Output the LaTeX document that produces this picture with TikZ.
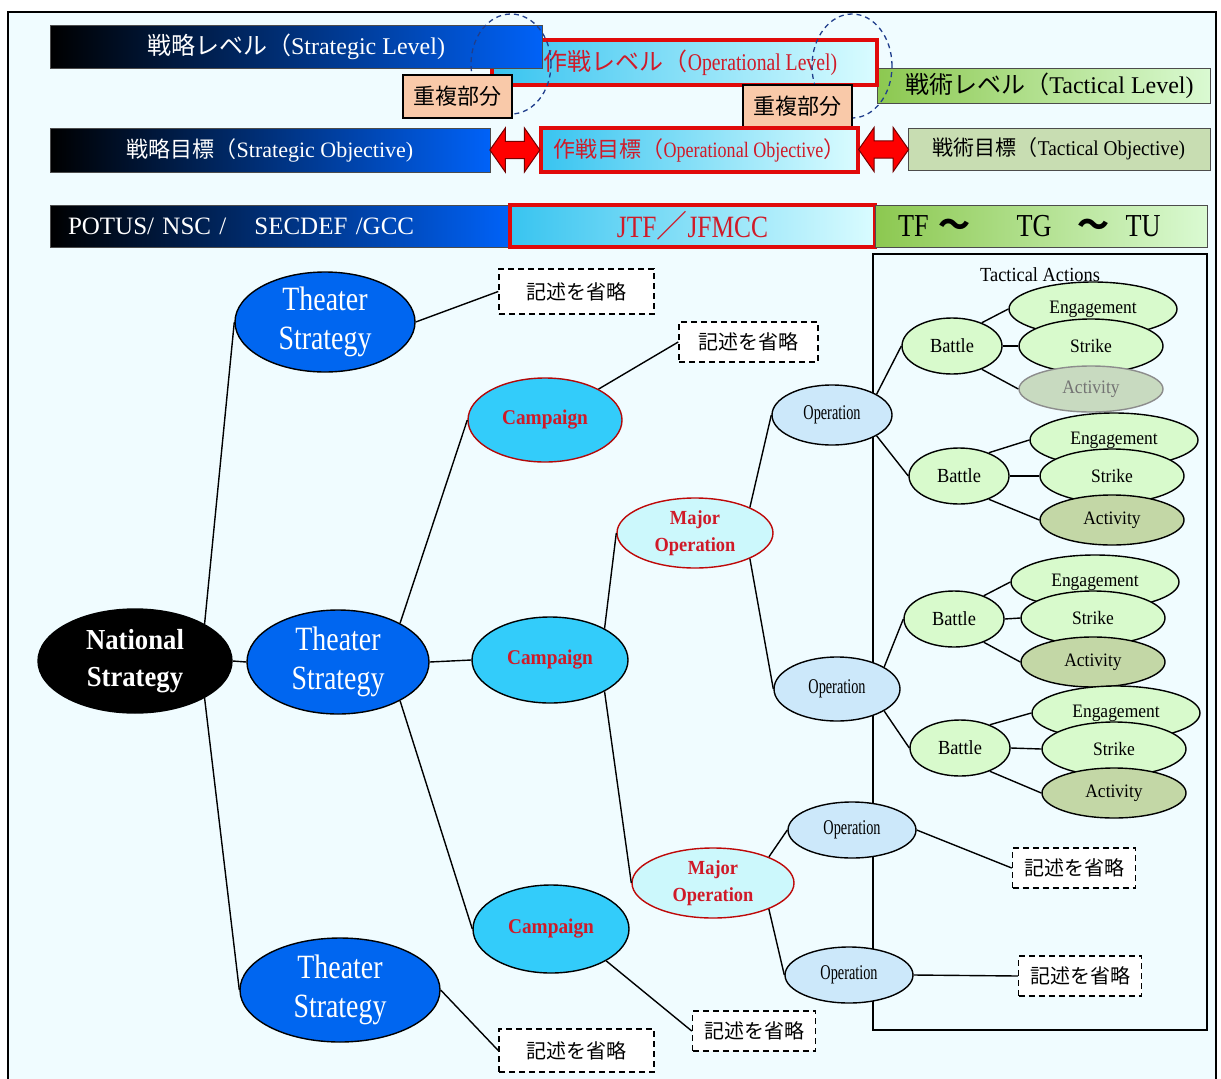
\documentclass[tikz,border=0pt]{standalone}
\usepackage{fontspec}
\setmainfont{Liberation Serif}
\newfontfamily\jp{Noto Sans CJK JP}
\newfontfamily\cnd[FakeStretch=0.82]{Liberation Serif}
\newfontfamily\cndx[FakeStretch=0.68]{Liberation Serif}
\newfontfamily\cndb[FakeStretch=0.92]{Liberation Serif}
\usetikzlibrary{shapes.geometric,shapes.arrows,calc}
\definecolor{bg}{HTML}{F0FCFF}
\definecolor{sblue}{HTML}{0062F8}
\definecolor{smid}{HTML}{0A3FB0}
\definecolor{tsblue}{HTML}{0066F0}
\definecolor{campc}{HTML}{33CCFA}
\definecolor{moc}{HTML}{CCF8FC}
\definecolor{opc}{HTML}{CCE8FA}
\definecolor{grn}{HTML}{D8FACC}
\definecolor{actc}{HTML}{C3D7A6}
\definecolor{actf}{HTML}{C8DAC0}
\definecolor{rd}{HTML}{E00A0A}
\definecolor{rtxt}{HTML}{D01A28}
\definecolor{peach}{HTML}{F9C9A9}
\definecolor{tobjc}{HTML}{C8DDB2}
\definecolor{opl}{HTML}{38C4F0}
\definecolor{opr}{HTML}{DAFCFF}
\definecolor{tgl}{HTML}{8CC850}
\definecolor{tgm}{HTML}{C8F2B8}
\definecolor{tgr}{HTML}{DAFAD2}
\definecolor{navy}{HTML}{203E8C}
\tikzset{
  sbar/.style={rectangle, draw=black!70, line width=1pt, left color=black, middle color=smid, right color=sblue, text=white, inner sep=0pt},
  obar/.style={rectangle, draw=rd, line width=3.5pt, left color=opl, right color=opr, text=rtxt, inner sep=0pt},
  gbar/.style={rectangle, draw=black!70, line width=1pt, left color=tgl, middle color=tgm, right color=tgr, text=black, inner sep=0pt},
  ovl/.style={rectangle, draw=black, line width=1.3pt, fill=peach, font=\fontsize{22}{26}\selectfont\jp, minimum width=109pt, minimum height=43pt, inner sep=0pt},
  darr/.style={double arrow, draw=red!45!black, line width=1pt, fill=red, minimum height=50pt, minimum width=44pt, inner xsep=0pt, inner ysep=8pt, double arrow head extend=13pt, double arrow tip angle=110},
  ell/.style={ellipse, draw=black, line width=1.4pt, inner sep=0pt, align=center},
  tsn/.style={ell, fill=tsblue, text=white, inner ysep=-6pt, font=\fontsize{34}{39}\selectfont\cnd},
  campn/.style={ell, fill=campc, text=rtxt, font=\fontsize{21}{24}\selectfont\cndb\bfseries},
  mon/.style={ell, draw=rd!85!black, fill=moc, text=rtxt, font=\fontsize{20}{27}\selectfont\cndb\bfseries, minimum height=70pt},
  opn/.style={ell, fill=opc, font=\fontsize{21}{24}\selectfont\cndx},
  batn/.style={ell, fill=grn, font=\fontsize{20}{24}\selectfont\cndb, minimum width=100pt, minimum height=56pt},
  engn/.style={ell, fill=grn, font=\fontsize{19}{24}\selectfont\cndb, minimum width=168pt, minimum height=54pt},
  strn/.style={ell, fill=grn, font=\fontsize{19}{24}\selectfont\cndb, minimum width=144pt, minimum height=54pt},
  actn/.style={ell, fill=actc, font=\fontsize{19}{24}\selectfont\cndb, minimum width=144pt, minimum height=50pt},
  omit/.style={rectangle, draw=black, dash pattern=on 6pt off 4pt, line width=1.5pt, fill=white, font=\fontsize{20}{24}\selectfont\jp, inner sep=0pt, minimum height=40pt},
  link/.style={line width=1.4pt, black}
}
\begin{document}
\begin{tikzpicture}[x=1pt,y=-1pt]
\useasboundingbox (0,0) rectangle (1221,1079);
\clip (0,0) rectangle (1221,1079);
\fill[white] (0,0) rectangle (1221,1079);
\fill[bg] (8,12) rectangle (1216,1095);
\draw[line width=2.5pt] (8,1095) -- (8,12) -- (1216,12) -- (1216,1095);

% level bars
\node[gbar, minimum width=333pt, minimum height=35pt, font=\fontsize{24}{28}\selectfont] (tlev) at (1043.5,85.5) {\hspace*{12pt}{\jp 戦術レベル（}Tactical Level)};
\node[obar, minimum width=385pt, minimum height=45pt, font=\fontsize{24}{28}\selectfont] (olev) at (684.5,62.5) {\hspace*{12pt}{\jp 作戦レベル（}{\cnd Operational Level)}};
\node[sbar, minimum width=492pt, minimum height=43pt, font=\fontsize{24}{28}\selectfont] (slev) at (296,46.5) {{\jp 戦略レベル（}Strategic Level)};

\draw[navy, line width=1.3pt, dash pattern=on 5pt off 4pt] (511,64) ellipse [x radius=40pt, y radius=50pt];
\draw[navy, line width=1.3pt, dash pattern=on 5pt off 4pt] (852,66) ellipse [x radius=40pt, y radius=52pt];

\node[ovl] (ov1) at (457.5,96.5) {重複部分};
\node[ovl] (ov2) at (797.5,106.5) {重複部分};

% objectives
\node[sbar, minimum width=440pt, minimum height=44pt, font=\fontsize{22}{26}\selectfont] (sobj) at (270,150) {{\jp 戦略目標（}Strategic Objective)};
\node[obar, minimum width=317pt, minimum height=44pt, font=\fontsize{22}{26}\selectfont] (oobj) at (699.5,150) {{\jp 作戦目標（}{\cnd Operational Objective}{\jp ）}};
\node[rectangle, draw=black!70, line width=1pt, fill=tobjc, minimum width=302pt, minimum height=42pt, inner sep=0pt, font=\fontsize{21}{26}\selectfont] (tobj) at (1059,149) {{\jp 戦術目標（}{\cndb Tactical Objective)}};
\node[darr] (arr1) at ($(sobj.east)!0.5!(oobj.west)$) {};
\node[darr] (arr2) at ($(oobj.east)!0.5!(tobj.west)$) {};

% commanders row
\node[sbar, minimum width=460pt, minimum height=42pt, text width=430pt, inner xsep=15pt, align=left, font=\fontsize{25}{28}\selectfont] (potus) at (280,226) {\hspace*{3pt}POTUS/ NSC /\hspace{28pt}SECDEF /GCC};
\node[obar, minimum width=365pt, minimum height=42pt, font=\fontsize{31}{34}\selectfont\cnd] (jtf) at (692.5,226) {JTF{\jp ／}JFMCC};
\node[gbar, minimum width=332pt, minimum height=42pt, text width=286pt, inner xsep=23pt, align=left, font=\fontsize{32}{34}\selectfont\cnd] (tf) at (1041,226) {TF\hspace{10pt}{\jp\bfseries ～}\hspace{46pt}TG\hspace{26pt}{\jp\bfseries ～}\hspace{16pt}TU};

% tactical box
\node[draw, line width=1.5pt, minimum width=334pt, minimum height=776pt, inner sep=0pt] (tbox) at (1040,642) {};
\node[font=\fontsize{20}{22}\selectfont\cndb, inner sep=0pt] (tact) at (1040,275) {Tactical Actions};

% main tree
\node[ell, fill=black, text=white, font=\fontsize{29}{37}\selectfont\cndb\bfseries, minimum width=194pt, minimum height=104pt] (nat) at (135,661) {National\\Strategy};
\node[tsn, minimum width=180pt, minimum height=100pt] (ts1) at (325,322) {Theater\\Strategy};
\node[tsn, minimum width=182pt, minimum height=104pt] (ts2) at (338,662) {Theater\\Strategy};
\node[tsn, minimum width=200pt, minimum height=104pt] (ts3) at (340,990) {Theater\\Strategy};

\node[campn, draw=rd!80!black, minimum width=154pt, minimum height=84pt] (cp1) at (545,420) {Campaign};
\node[campn, minimum width=156pt, minimum height=86pt] (cp2) at (550,660) {Campaign};
\node[campn, minimum width=156pt, minimum height=88pt] (cp3) at (551,929) {Campaign};

\node[mon, minimum width=156pt] (mo1) at (695,533) {Major\\Operation};
\node[mon, minimum width=162pt] (mo2) at (713,883) {Major\\Operation};

\node[opn, minimum width=120pt, minimum height=60pt] (op1) at (832,415) {Operation};
\node[opn, minimum width=126pt, minimum height=64pt] (op2) at (837,689) {Operation};
\node[opn, minimum width=128pt, minimum height=56pt] (op3) at (852,830) {Operation};
\node[opn, minimum width=128pt, minimum height=56pt] (op4) at (849,975) {Operation};

\node[omit, minimum width=155pt, minimum height=45pt] (om1) at (576.5,291.5) {記述を省略};
\node[omit, minimum width=139pt] (om2) at (748.5,342) {記述を省略};
\node[omit, minimum width=123pt] (om3) at (1074,868) {記述を省略};
\node[omit, minimum width=123pt] (om4) at (1080,976) {記述を省略};
\node[omit, minimum width=123pt] (om5) at (754,1031) {記述を省略};
\node[omit, minimum width=155pt, minimum height=43pt] (om6) at (576.5,1050.5) {記述を省略};

% tactical groups
\node[batn] (b1) at (952,346) {Battle};
\node[engn] (e1) at (1093,309) {Engagement};
\node[strn] (s1) at (1091,346) {Strike};
\node[actn, fill=actf, draw=black!45, text=black!55, minimum height=46pt] (a1) at (1091,389) {Activity};

\node[batn] (b2) at (959,476) {Battle};
\node[engn] (e2) at (1114,440) {Engagement};
\node[strn] (s2) at (1112,476) {Strike};
\node[actn] (a2) at (1112,520) {Activity};

\node[batn] (b3) at (954,619) {Battle};
\node[engn] (e3) at (1095,582) {Engagement};
\node[strn] (s3) at (1093,618) {Strike};
\node[actn] (a3) at (1093,662) {Activity};

\node[batn] (b4) at (960,748) {Battle};
\node[engn] (e4) at (1116,713) {Engagement};
\node[strn] (s4) at (1114,749) {Strike};
\node[actn] (a4) at (1114,793) {Activity};

% connectors
\draw[link] (nat.28) -- (ts1.west);
\draw[link] (nat.east) -- (ts2.west);
\draw[link] (nat.-28) -- (ts3.west);
\draw[link] (ts1.east) -- (om1.west);
\draw[link] (ts2.32) -- (cp1.west);
\draw[link] (ts2.east) -- (cp2.west);
\draw[link] (ts2.-32) -- (cp3.west);
\draw[link] (ts3.east) -- (om6.west);
\draw[link] (cp1.30) -- (om2.west);
\draw[link] (cp2.30) -- (mo1.west);
\draw[link] (cp2.-30) -- (mo2.west);
\draw[link] (cp3.-30) -- (om5.west);
\draw[link] (mo1.25) -- (op1.west);
\draw[link] (mo1.-25) -- (op2.west);
\draw[link] (mo2.25) -- (op3.west);
\draw[link] (mo2.-25) -- (op4.west);
\draw[link] (op1.25) -- (b1.west);
\draw[link] (op1.-25) -- (b2.west);
\draw[link] (op2.25) -- (b3.west);
\draw[link] (op2.-25) -- (b4.west);
\draw[link] (op3.east) -- (om3.west);
\draw[link] (op4.east) -- (om4.west);
\foreach \i in {1,2,3,4}{
  \draw[link] (b\i.38) -- (e\i.west);
  \draw[link] (b\i.east) -- (s\i.west);
  \draw[link] (b\i.-38) -- (a\i.west);
}
\end{tikzpicture}
\end{document}
